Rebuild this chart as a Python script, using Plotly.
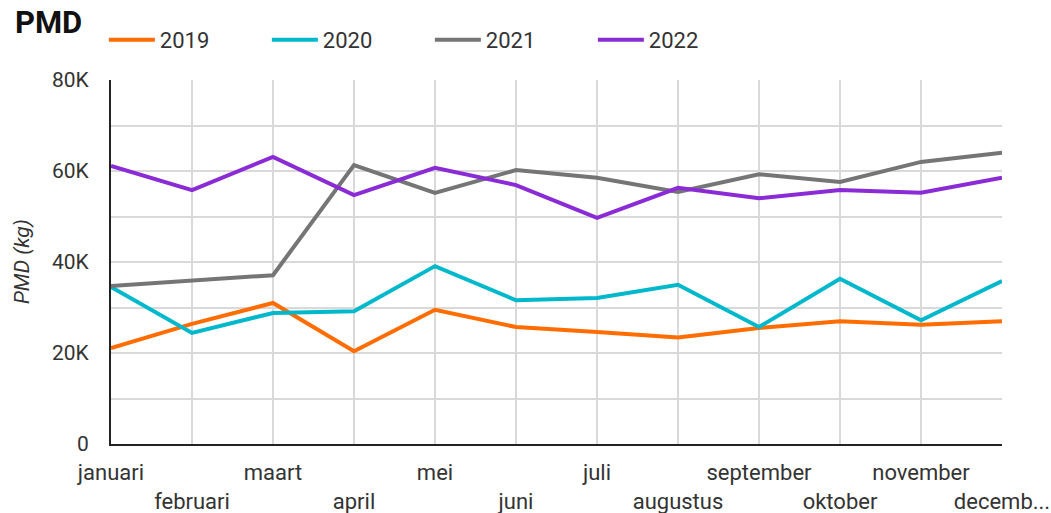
import plotly.graph_objects as go

months = ["januari", "februari", "maart", "april", "mei", "juni", "juli",
          "augustus", "september", "oktober", "november", "december"]
tick_labels = ["januari", "februari", "maart", "april", "mei", "juni", "juli",
               "augustus", "september", "oktober", "november", "decemb..."]
v2019 = [21100, 26400, 31000, 20400, 29500, 25700, 24600, 23400, 25500, 27000, 26200, 27000]
v2020 = [34500, 24400, 28800, 29200, 39100, 31600, 32100, 35000, 25700, 36300, 27200, 35800]
v2021 = [34700, 35800, 37100, 61300, 55200, 60200, 58500, 55400, 59300, 57600, 62000, 64000]
v2022 = [61100, 55800, 63100, 54700, 60700, 56900, 49700, 56300, 54000, 55800, 55200, 58500]

series = [("2019", v2019, "#FF6D00"), ("2020", v2020, "#00B8CC"),
          ("2021", v2021, "#757575"), ("2022", v2022, "#8A2BD6")]

fig = go.Figure()
for name, vals, col in series:
    fig.add_trace(go.Scatter(x=months, y=vals, name=name, mode="lines",
                             line=dict(color=col, width=4)))

ticktext = [t if i % 2 == 0 else "<br>" + t for i, t in enumerate(tick_labels)]

fig.update_layout(
    width=1051, height=513,
    margin=dict(l=111, r=49, t=80, b=69, autoexpand=False),
    paper_bgcolor="white", plot_bgcolor="white",
    font=dict(family="Roboto, sans-serif", size=20, color="#333333"),
    title=dict(text="<b>PMD</b>", x=15/1051, xref="container", xanchor="left",
               y=1-22/513, yref="container", yanchor="middle", pad=dict(l=0, t=0, b=0),
               font=dict(size=31, color="#111111", family="Roboto, sans-serif")),
    legend=dict(orientation="h", x=-0.008, xanchor="left", y=1.11, yanchor="middle",
                font=dict(size=22, color="#333333"), itemwidth=46,
                entrywidth=102, entrywidthmode="pixels",
                bgcolor="rgba(0,0,0,0)"),
    showlegend=True,
    annotations=[dict(text="<i>PMD (kg)</i>", xref="paper", yref="paper",
                      x=(22 - 111) / 891, y=(444 - 262) / 364, textangle=-90,
                      showarrow=False, xanchor="center", yanchor="middle",
                      font=dict(size=21, color="#333333"))],
)
fig.update_xaxes(
    tickmode="array", tickvals=months, ticktext=ticktext, tickangle=0,
    showgrid=True, gridcolor="#D9D9D9", gridwidth=1.5,
    showline=True, linecolor="#222222", linewidth=2,
    ticks="", tickfont=dict(size=22), range=[0, 11],
    automargin=False, ticklabelstandoff=8,
)
fig.update_yaxes(
    range=[0, 80000], tickvals=[0, 20000, 40000, 60000, 80000],
    ticktext=["0", "20K", "40K", "60K", "80K"],
    showgrid=True, gridcolor="#D9D9D9", gridwidth=1.5,
    minor=dict(tickvals=[10000, 30000, 50000, 70000], showgrid=True,
               gridcolor="#D9D9D9", gridwidth=1.5),
    showline=True, linecolor="#222222", linewidth=2,
    zeroline=False, ticks="", tickfont=dict(size=21),
    automargin=False, ticklabelstandoff=16,
)

fig.write_html("out.html", config={"displayModeBar": False},
               post_script="document.body.style.margin='0';")
